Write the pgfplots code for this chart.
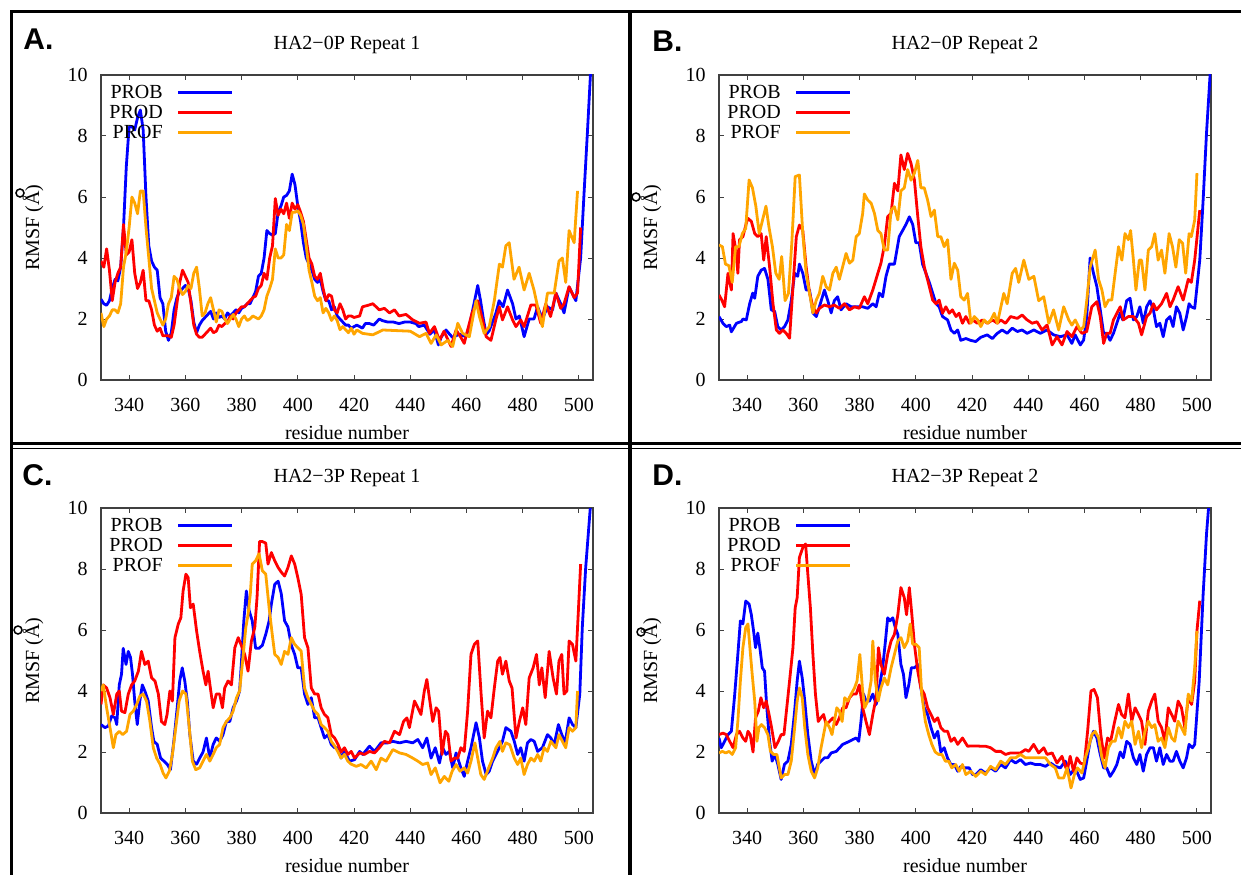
\documentclass[border=0pt]{standalone}
\usepackage{fontspec}
\setmainfont{Liberation Serif}
\newfontfamily\lettersf{Liberation Sans}
\usepackage{pgfplots}
\pgfplotsset{compat=1.18}

\definecolor{probc}{RGB}{0,0,255}
\definecolor{prodc}{RGB}{255,0,0}
\definecolor{profc}{RGB}{255,165,0}

\pgfplotsset{
  panel/.style={
    scale only axis, width=246pt, height=152.5pt, anchor=south west,
    xmin=330, xmax=505, ymin=0, ymax=10,
    xtick={340,360,...,500}, ytick={0,2,...,10},
    tick align=inside, major tick length=2.5pt,
    axis line style={black!75, line width=0.6pt},
    every tick/.style={black!75, line width=0.5pt},
    tick label style={font=\fontsize{10}{12}\selectfont},
    /pgf/number format/assume math mode=true,
    /pgf/number format/set thousands separator={},
    xticklabel style={anchor=base, yshift=-15.75pt},
    yticklabel style={anchor=east, xshift=-3.2pt},
    xlabel={residue number}, ylabel={RMSF (Å)},
    every axis x label/.style={at={(axis description cs:0.5,-0.174)}, anchor=center},
    every axis y label/.style={at={(axis description cs:-0.138,0.5)}, rotate=90, anchor=center},
    label style={font=\fontsize{10}{12}\selectfont},
    every axis title/.style={at={(axis description cs:0.5,1.098)}, anchor=center, font=\fontsize{10}{12}\selectfont},
    legend cell align=right, legend plot pos=right,
    legend style={at={(axis description cs:0,1)}, anchor=north west, xshift=4pt, yshift=-3.5pt,
      draw=none, fill=none, inner sep=0pt, row sep=0pt, font=\fontsize{10}{12}\selectfont,
      nodes={inner sep=0pt, text height=8pt, text depth=2pt},
      /tikz/every odd column/.append style={column sep=7pt}},
    legend image code/.code={\draw[#1] (0pt,0pt) -- (27pt,0pt);},
  },
  pb/.style={probc, line width=1.4pt, line join=round},
  pd/.style={prodc, line width=1.4pt, line join=round},
  pf/.style={profc, line width=1.4pt, line join=round},
}

\begin{document}
\begin{tikzpicture}
\useasboundingbox (0,0) rectangle (620.5pt,437.5pt);

% frame
\draw[line width=1.5pt] (5pt,431.5pt) -- (620.5pt,431.5pt);
\draw[line width=1.5pt] (5.5pt,432pt) -- (5.5pt,0pt);
\draw[line width=2pt] (315pt,432pt) -- (315pt,0pt);
\draw[line width=1.5pt] (5.5pt,216pt) -- (620.5pt,216pt);
\draw[line width=0.8pt] (5.5pt,213.3pt) -- (620.5pt,213.3pt);

% panel letters
\node[font=\lettersf\bfseries\fontsize{15}{17}\selectfont, anchor=base west, inner sep=0pt] at (11.5pt,412.5pt) {A.};
\node[font=\lettersf\bfseries\fontsize{15}{17}\selectfont, anchor=base west, inner sep=0pt] at (326pt,411.5pt) {B.};
\node[font=\lettersf\bfseries\fontsize{15}{17}\selectfont, anchor=base west, inner sep=0pt] at (11pt,195pt) {C.};
\node[font=\lettersf\bfseries\fontsize{15}{17}\selectfont, anchor=base west, inner sep=0pt] at (326pt,195pt) {D.};

% stray ring marks beside the y labels
\draw[line width=0.75pt] (10pt,341pt) circle (2pt);
\draw[line width=0.75pt] (318pt,339pt) circle (2pt);
\draw[line width=0.75pt] (9pt,122.5pt) circle (2pt);
\draw[line width=0.75pt] (320.5pt,121.5pt) circle (2pt);

% ---------------- A ----------------
\begin{axis}[panel, at={(50.5pt,247.5pt)}, title={HA2−0P Repeat 1}]
\addplot[pb] coordinates {(330,2.65)(331,2.5)(332,2.45)(333,2.6)(334,3.0)(335,3.3)(336,3.25)(337,3.7)(338,5.0)(339,7.0)(340,8.3)(341,8.3)(342,8.2)(343,8.6)(344,8.85)(345,8.2)(346,6.0)(347,4.4)(348,3.9)(349,3.7)(350,3.6)(351,2.7)(352,2.5)(353,1.6)(354,1.3)(355,1.55)(356,2.3)(357,2.7)(358,2.9)(359,3.0)(360,3.1)(361,3.0)(362,2.6)(363,1.9)(364,1.55)(365,1.8)(366,1.95)(367,2.05)(368,2.15)(369,2.25)(370,2.0)(371,2.2)(372,2.05)(373,2.1)(374,2.0)(375,2.2)(376,2.1)(377,2.2)(378,2.3)(379,2.2)(380,2.35)(381,2.4)(382,2.5)(383,2.5)(384,2.7)(385,2.9)(386,3.4)(387,3.5)(388,4.0)(389,4.9)(390,4.8)(391,4.75)(392,4.8)(393,5.5)(394,5.7)(395,6.0)(396,6.05)(397,6.2)(398,6.75)(399,6.4)(400,5.7)(401,5.2)(402,4.5)(403,4.0)(404,3.8)(405,3.6)(406,3.3)(407,3.2)(408,3.3)(409,2.9)(410,2.6)(411,2.6)(412,2.3)(413,2.4)(414,2.1)(415,2.0)(416,1.9)(417,1.8)(418,1.8)(419,1.7)(420,1.75)(421,1.8)(422,1.75)(423,1.7)(424,1.85)(425.5,1.85)(427,1.8)(429,2.0)(430,1.95)(432,1.9)(434,1.9)(436,1.85)(438,1.9)(440,1.9)(442,1.85)(443,1.75)(445,1.8)(447,1.5)(448.5,1.65)(450,1.15)(451,1.4)(452.7,1.64)(454,1.5)(455,1.4)(457.5,1.5)(459.8,1.42)(461,1.75)(462,2.2)(464,3.1)(465,2.6)(466,2.0)(467,1.5)(468,1.6)(470.5,2.2)(471.6,2.6)(473,2.4)(474.6,2.95)(476.4,2.5)(477.6,2.0)(478.8,2.1)(480.5,1.42)(482.3,2.0)(484,2.0)(485.3,2.4)(487,2.0)(488.8,2.4)(490.6,2.3)(491.8,2.85)(493.5,2.5)(494.7,2.2)(496.5,3.05)(498.9,2.6)(500.6,4.0)(501.8,6.1)(503,8.1)(504.2,10.2)};
\addlegendentry{PROB}
\addplot[pd] coordinates {(330,3.9)(331,3.7)(332,4.3)(333,3.6)(334,2.6)(335,3.2)(336,3.5)(337,3.7)(338,5.1)(339,4.1)(340,4.2)(341,4.6)(342,3.5)(343,3.0)(344,3.2)(345,3.6)(346,2.6)(347,2.6)(348,2.3)(349,1.8)(350,1.6)(351,1.7)(352,1.45)(353,1.45)(354,1.45)(355,1.4)(356,1.8)(357,2.5)(358,3.2)(359,3.6)(360,3.4)(361,3.2)(362,2.5)(363,1.8)(364,1.5)(365,1.4)(366,1.4)(367,1.5)(368,1.6)(369,1.7)(370,1.55)(371,1.6)(372,1.8)(373,1.75)(374,1.85)(375,1.9)(376,2.1)(377,2.0)(378,2.2)(379,2.3)(380,2.4)(381,2.4)(382,2.5)(383,2.6)(384,2.7)(385,2.75)(386,3.0)(387,3.1)(388,3.5)(389,3.3)(390,4.0)(391,4.4)(392,5.95)(393,5.4)(394,5.6)(395,5.45)(396,5.8)(397,5.3)(398,5.8)(399,5.6)(400,5.75)(401,5.5)(402,5.2)(403,4.6)(404,4.0)(405,3.8)(406,3.4)(407,3.3)(408,3.5)(409,3.0)(410,2.6)(411,2.8)(412,2.75)(413,2.3)(414,2.2)(415,2.5)(416,2.3)(417,2.0)(418,2.1)(419,2.1)(420,2.05)(422,2.1)(423,2.4)(425,2.45)(426.7,2.5)(429,2.3)(430.8,2.35)(432.6,2.2)(434.4,2.3)(436,2.1)(438.5,2.15)(440.9,1.97)(443.3,1.86)(445.6,1.9)(446.8,1.53)(448.6,1.75)(450.4,1.3)(452,1.6)(454.5,1.1)(456.3,1.64)(458,1.4)(459.2,1.2)(460.4,1.64)(462,2.2)(464,2.6)(465.7,1.97)(467,1.42)(468.7,1.3)(470.5,2.0)(471.7,2.4)(472.8,1.97)(474.6,2.4)(476.4,1.97)(477.6,1.75)(479.3,1.97)(480.5,1.75)(482.9,2.46)(484.7,2.46)(486.4,1.86)(488.2,2.5)(489.9,2.08)(491.8,2.85)(493.5,2.35)(494.7,2.5)(496.5,3.06)(498.3,2.7)(499.5,2.85)(500.6,5.0)};
\addlegendentry{PROD}
\addplot[pf] coordinates {(330,2.2)(331,1.75)(332,2.0)(333,2.1)(334,2.3)(335,2.3)(336,2.2)(337,2.5)(338,3.7)(339,4.2)(340,5.0)(341,6.0)(342,5.8)(343,5.45)(344,6.2)(345,6.2)(346,5.0)(347,4.0)(348,3.0)(349,2.6)(350,2.2)(351,2.0)(352,1.8)(353,2.0)(354,2.5)(355,2.7)(356,3.4)(357,3.3)(358,3.0)(359,2.8)(360,2.9)(361,3.1)(362,3.0)(363,3.5)(364,3.7)(365,3.0)(366,2.1)(367,2.2)(368,2.5)(369,2.7)(370,2.3)(371,1.9)(372,2.3)(373,2.25)(374,2.0)(375,1.85)(376,2.0)(377,2.15)(378,2.0)(379,1.75)(380,2.0)(381,2.1)(382,1.95)(383,2.0)(384,2.1)(385,2.05)(386,2.0)(387,2.1)(388,2.3)(389,2.75)(390,3.0)(391,3.3)(392,4.3)(393,4.0)(394,4.0)(395,4.1)(396,5.1)(397,4.9)(398,5.5)(399,5.5)(400,5.55)(401,5.4)(402,5.1)(403,4.4)(404,3.6)(405,3.2)(406,2.75)(407,2.6)(408,2.7)(409,2.2)(410,2.35)(411,2.2)(412,1.95)(413,2.1)(414,1.95)(415,1.65)(416,1.75)(417,1.65)(418,1.55)(419,1.7)(420,1.5)(421,1.64)(423,1.53)(426.7,1.48)(430.2,1.64)(435,1.62)(440,1.6)(443.3,1.42)(445.6,1.53)(447.4,1.2)(449.2,1.48)(451,1.15)(453.3,1.3)(455.1,1.1)(456.9,1.86)(458.6,1.53)(461,1.42)(463.4,2.6)(464.6,2.08)(466.3,1.53)(468.1,1.75)(469.9,2.6)(471.7,3.8)(472.8,3.7)(474,4.4)(475.2,4.5)(476.9,3.3)(478.7,3.7)(480.5,2.95)(482.3,3.5)(484,2.95)(485.3,2.4)(487,1.75)(488.8,2.85)(491.2,2.85)(492.9,3.9)(494.1,4.0)(495.3,3.2)(496.5,4.9)(498.3,4.5)(499.5,6.2)};
\addlegendentry{PROF}
\end{axis}

% ---------------- B ----------------
\begin{axis}[panel, at={(359.5pt,247.5pt)}, title={HA2−0P Repeat 2}]
\addplot[pb] coordinates {(330,2.08)(331.4,1.86)(332.6,1.75)(333.8,1.8)(334.4,1.58)(336.2,1.86)(338,1.92)(338.5,2.0)(339.7,1.97)(340.9,2.5)(342,2.85)(342.7,2.68)(343.8,3.4)(345,3.6)(346.2,3.66)(347.4,3.3)(348.6,2.3)(349.8,2.25)(350.9,1.75)(352.1,1.64)(353.3,1.75)(354.5,1.97)(355.7,2.6)(356.9,3.5)(358,3.4)(358.6,3.8)(359.8,3.5)(361,2.95)(362.2,2.95)(363.4,2.2)(364.6,2.08)(365.7,2.4)(367.5,2.95)(368.7,2.6)(369.9,2.2)(371,2.6)(372.2,2.73)(373.4,2.3)(375.2,2.5)(377,2.4)(378.8,2.4)(381.1,2.4)(382.9,2.35)(384.7,2.5)(385.9,2.4)(387,2.85)(388.2,2.73)(389.4,3.4)(390.6,3.8)(392.4,3.8)(394.1,4.7)(395.3,4.9)(396.5,5.1)(397.7,5.35)(398.9,5.1)(400,4.5)(401.2,4.5)(402.4,3.8)(403.6,3.5)(404.8,3.2)(406,2.85)(407.2,2.5)(408.3,2.4)(409.5,2.08)(411.3,1.97)(412.5,1.64)(413.7,1.53)(414.9,1.64)(416,1.3)(417.8,1.36)(419.5,1.3)(421.3,1.26)(423.1,1.4)(425.4,1.48)(427.2,1.36)(429,1.53)(430.7,1.64)(432.5,1.53)(434.3,1.7)(436.1,1.59)(437.8,1.64)(439.6,1.53)(442,1.64)(444.3,1.53)(446.7,1.64)(449,1.48)(451.4,1.42)(453.8,1.48)(455.5,1.2)(456.7,1.48)(458.5,1.15)(459.7,1.31)(460.8,2.08)(462,4.0)(463.2,3.5)(464.4,3.06)(465.6,2.3)(466.8,1.53)(467.9,1.53)(469.1,1.3)(470.3,1.53)(471.5,1.86)(472.7,2.2)(473.6,1.97)(475,2.6)(476.2,2.68)(477.4,1.97)(478.6,2.08)(479.7,2.4)(480.9,1.86)(482.1,2.4)(483.3,2.6)(484.5,2.3)(485.6,1.75)(486.8,1.86)(488,1.42)(489.2,1.97)(490.4,2.08)(491.5,1.75)(492.7,2.4)(493.9,2.19)(495.1,1.64)(496.3,2.08)(497.2,2.5)(498,2.4)(499.2,2.35)(501,3.93)(502.2,5.9)(503.4,8.1)(504.8,10.2)};
\addlegendentry{PROB}
\addplot[pd] coordinates {(330,2.79)(331,2.62)(332,2.4)(333.2,3.5)(334.4,2.95)(335,4.8)(336.2,4.15)(336.7,3.5)(337.3,4.6)(338.5,4.7)(339.7,5.14)(340.3,5.3)(341.5,5.2)(342.7,4.8)(343.8,4.7)(345,4.8)(345.9,3.93)(346.8,4.7)(348,3.7)(349.2,2.5)(350.4,1.64)(351.5,1.53)(352.7,1.64)(353.9,1.53)(355.1,1.37)(356.3,3.06)(357.5,4.7)(358.6,5.08)(359.8,4.9)(361,3.7)(362.2,2.85)(363.4,2.4)(364.6,2.2)(365.7,2.35)(367.5,2.46)(369.3,2.4)(371,2.46)(372.8,2.35)(374.6,2.5)(376.4,2.3)(378.2,2.4)(379.9,2.35)(381.7,2.73)(382.9,2.5)(384.7,2.95)(386.5,3.5)(387.6,3.83)(388.8,4.4)(390,5.36)(391.2,5.46)(392.4,6.45)(393.6,6.2)(394.7,7.38)(395.9,6.9)(397.1,7.43)(398.3,7.1)(399.5,6.56)(400.7,5.36)(401.8,4.37)(403,3.72)(404.8,3.06)(406,2.62)(407.2,2.5)(408.3,2.62)(409.5,2.19)(410.7,2.4)(411.9,2.19)(413,2.3)(414.3,2.08)(415.4,2.19)(416.6,1.86)(417.8,2.08)(419,1.86)(420.2,1.97)(421.9,1.86)(423.7,1.97)(425.5,1.86)(427.3,1.97)(429,1.86)(430.2,1.97)(431.9,1.86)(433.7,2.08)(436.1,2.02)(437.8,2.13)(439.6,1.97)(441.4,1.86)(443.1,1.91)(444.9,1.64)(446.7,1.8)(448.5,1.15)(450.2,1.42)(452,1.15)(453.8,1.59)(455.5,1.42)(457.3,1.75)(459.1,1.53)(460.8,1.59)(462.6,2.4)(464.4,2.57)(465.6,2.08)(466.8,1.2)(467.9,1.53)(469.1,1.53)(470.3,1.97)(472.7,2.4)(473.8,1.97)(475.6,2.08)(477.4,2.08)(479.2,1.86)(480.3,1.48)(482.1,2.08)(483.3,2.19)(484.5,2.5)(485.6,2.3)(487.4,2.5)(489.2,2.84)(490.4,2.4)(491.5,2.62)(493.3,3.06)(495.1,2.62)(496.9,3.3)(498,3.2)(499.2,3.93)(501,5.57)};
\addlegendentry{PROD}
\addplot[pf] coordinates {(330,4.43)(331.2,4.37)(332.3,3.8)(333.5,3.75)(334.7,3.2)(335.9,4.37)(337.1,4.37)(338.3,4.8)(339.5,4.97)(340.7,6.56)(341.9,6.3)(343.1,5.7)(344.3,4.8)(345.5,5.25)(346.7,5.7)(347.8,5.0)(349,4.37)(350.2,3.5)(351.4,3.3)(352.3,4.05)(353.5,2.6)(354.7,2.84)(355.9,4.5)(357.1,6.67)(358.6,6.72)(359.8,4.8)(361,3.5)(362.2,2.85)(363.4,2.2)(364.6,2.62)(365.7,2.84)(366.9,3.4)(368.1,3.06)(369.3,2.95)(370.5,3.5)(371.7,3.7)(372.8,3.3)(374,3.72)(375.2,4.15)(376.4,3.83)(377.6,3.93)(378.8,4.7)(379.9,4.8)(381.1,5.46)(381.7,6.1)(382.9,5.9)(384.1,5.8)(385.3,5.46)(386.5,4.9)(387.6,4.8)(388.8,4.26)(390,4.26)(391.2,5.57)(392.4,5.68)(393.6,5.25)(394.7,6.2)(395.9,6.3)(397.1,6.9)(398.3,6.55)(399.5,6.78)(400.7,7.2)(401.8,6.3)(403,6.3)(404.2,5.9)(405.4,5.36)(406.6,5.57)(407.8,4.7)(408.9,4.7)(410.1,4.37)(411.3,4.6)(412.5,3.3)(413.7,3.83)(414.9,3.6)(416,2.73)(417.2,2.62)(418.4,2.84)(419.6,1.86)(420.8,2.08)(422,1.97)(423.1,1.75)(424.3,1.97)(425.5,1.86)(426.7,1.97)(427.9,2.19)(429,1.86)(431.3,2.84)(432.5,2.5)(434.3,3.5)(435.5,3.66)(436.6,3.2)(438.4,3.93)(440.2,3.3)(442,3.4)(443.7,2.6)(445.5,2.73)(447.3,1.86)(449,2.3)(450.8,1.64)(452.6,2.4)(454.4,1.97)(455.5,1.8)(456.7,1.97)(458.5,1.64)(459.7,1.75)(460.8,2.6)(462,3.7)(463.8,4.26)(465,3.3)(466.2,2.95)(467.3,2.4)(468.5,2.62)(469.7,2.62)(470.9,3.5)(472.1,4.37)(473.3,3.93)(474.4,4.8)(475.6,4.6)(476.4,4.9)(477.4,3.93)(478.3,2.95)(479.5,3.93)(480.3,3.93)(481.5,2.95)(482.7,4.26)(483.9,4.37)(485,4.8)(486.2,3.93)(487.4,4.26)(488.6,3.5)(490.1,4.8)(491.3,4.37)(492.5,3.7)(493.7,4.6)(494.9,4.48)(496,3.5)(497.2,4.8)(498,4.7)(499.2,5.25)(500,6.78)};
\addlegendentry{PROF}
\end{axis}

% ---------------- C ----------------
\begin{axis}[panel, at={(50.5pt,31pt)}, title={HA2−3P Repeat 1}]
\addplot[pb] coordinates {(330,2.9)(331.4,2.8)(332.6,2.85)(333.8,3.18)(335,3.12)(335.6,2.9)(336.5,4.2)(337.3,4.55)(337.9,5.4)(338.9,4.87)(339.7,5.3)(340.5,5.1)(341.2,4.55)(342,3.67)(342.9,2.9)(343.8,3.67)(344.7,4.2)(345.6,4.0)(346.8,3.67)(348,2.8)(348.8,2.35)(350,2.25)(351.2,1.8)(352.4,1.7)(353.6,1.59)(354.7,1.42)(355.9,2.35)(357.1,3.45)(358,4.33)(358.9,4.76)(359.8,4.33)(360.7,3.67)(361.6,2.57)(362.8,1.7)(364,1.6)(365.1,1.8)(366.3,2.0)(367.5,2.46)(368.7,1.8)(369.9,2.25)(371,2.46)(372.2,2.35)(373.4,2.57)(374.6,3.0)(375.8,3.0)(377,3.45)(378.2,3.67)(379.3,4.0)(379.9,4.87)(380.8,6.3)(381.7,7.28)(382.7,6.63)(383.8,6.3)(385,5.4)(386.2,5.4)(387.4,5.5)(388.6,5.86)(389.8,6.3)(390.6,6.85)(391.8,7.5)(393,7.6)(394.1,7.2)(395.3,6.3)(396.5,6.1)(397.7,5.5)(398.9,5.2)(400,4.76)(401.2,4.76)(402.4,3.9)(403.6,3.56)(404.8,3.78)(406,3.12)(407.2,3.12)(408.3,2.8)(409.5,2.46)(410.7,2.57)(411.9,2.25)(413.1,2.14)(414.3,2.14)(415.4,1.8)(416.6,2.02)(418.4,1.7)(420.2,1.75)(422,2.02)(423.1,1.92)(425.5,2.19)(427.3,2.02)(429.6,2.3)(432,2.3)(433.8,2.35)(436.2,2.3)(438.5,2.35)(440.9,2.3)(442.7,2.41)(444.4,2.14)(445.9,2.46)(447.4,1.8)(448.9,2.14)(450.4,1.64)(451.5,2.14)(452.7,1.92)(453.9,2.02)(455.1,1.48)(456.3,1.97)(458,1.48)(459.2,1.2)(460.4,1.7)(461.6,2.14)(463.4,2.96)(464.6,2.46)(465.7,1.7)(467,1.26)(468.1,1.37)(469.3,1.7)(470.5,1.92)(471.7,2.14)(472.8,2.35)(474,2.8)(475.8,2.68)(477,2.35)(478.2,1.92)(479.3,2.14)(480.5,1.7)(481.7,2.3)(482.9,2.41)(484.1,2.35)(485.3,2.02)(487,2.14)(488.8,2.57)(490,2.46)(491.2,2.24)(492.7,2.9)(493.9,2.57)(495.1,2.3)(496.5,3.12)(497.7,2.9)(498.9,2.8)(500.3,3.9)(501.2,6.1)(502.4,8.05)(504.2,10.2)};
\addlegendentry{PROB}
\addplot[pd] coordinates {(330,3.56)(330.8,4.2)(332,4.1)(333.2,3.78)(334.4,3.23)(335.6,3.9)(336.5,4.0)(337.3,3.34)(338.5,3.29)(339.7,3.9)(340.9,4.2)(342,4.33)(343.3,4.65)(344.4,5.3)(345.6,4.87)(346.8,4.98)(348,4.43)(349.2,4.33)(350.4,3.9)(351.5,3.0)(352.7,2.9)(353.5,3.23)(354.5,4.0)(355.4,3.67)(356.3,5.75)(357.5,6.2)(358.4,6.4)(359.2,7.28)(360.2,7.83)(361,7.72)(361.8,6.73)(362.8,6.85)(364,5.97)(365.1,5.3)(366.3,4.65)(367.3,4.2)(368.1,4.65)(368.9,4.1)(369.9,3.45)(371,3.9)(372.2,3.9)(373.2,3.45)(374,4.1)(375.2,4.33)(376.4,4.2)(377.6,5.42)(378.8,5.75)(379.9,5.5)(381.1,5.2)(382.3,4.65)(383.5,5.64)(384.7,6.08)(385.5,7.06)(386.4,8.9)(387.4,8.9)(388.6,8.85)(389.4,8.16)(390.6,8.54)(391.8,8.27)(393,8.05)(394.1,7.9)(395.3,7.77)(396.5,8.05)(397.7,8.43)(398.9,8.16)(400,7.72)(401.2,7.17)(402.4,5.75)(403.6,5.42)(404.8,4.1)(406,3.9)(407.2,3.9)(408.3,3.45)(409.5,3.23)(410.7,3.12)(411.9,2.57)(413.1,2.46)(414.3,2.25)(415.4,2.0)(416.6,2.14)(417.8,1.92)(419,2.02)(420.2,1.8)(422,1.97)(423.7,1.92)(425.5,2.02)(427.3,1.97)(429,2.14)(430.8,2.35)(432.6,2.3)(434.4,2.68)(436.2,2.57)(437.6,3.0)(438.8,3.12)(439.7,2.8)(441.5,3.67)(442.7,3.45)(443.8,3.23)(445,4.0)(445.9,4.38)(446.8,3.78)(448,3.0)(449.2,3.45)(450.1,3.34)(451.3,1.92)(452.5,2.68)(453.4,2.57)(454.5,1.7)(455.7,1.8)(456.9,1.8)(458,2.14)(459.2,2.02)(460.4,3.34)(461.6,5.2)(462.8,5.53)(464,5.64)(465.2,3.9)(466.3,2.46)(467.5,3.34)(468.7,3.12)(469.9,4.1)(471.1,4.98)(471.9,5.1)(472.8,4.55)(474,4.98)(475.2,4.33)(476.2,4.1)(477.6,2.46)(478.8,3.0)(480,3.45)(481.1,2.9)(482.3,4.43)(483.7,4.76)(484.9,5.2)(485.9,4.2)(486.8,4.76)(488,3.78)(489.4,5.3)(490.8,4.43)(492,3.9)(492.9,4.98)(493.9,5.2)(494.7,3.9)(495.7,4.0)(496.5,5.64)(497.7,5.53)(498.9,4.98)(499.8,6.63)(500.6,8.16)};
\addlegendentry{PROD}
\addplot[pf] coordinates {(330,4.0)(330.8,4.2)(332,3.45)(333.2,2.8)(334.4,2.14)(335.3,2.57)(336.5,2.68)(337.7,2.57)(339.1,2.68)(340.3,3.23)(341.5,3.34)(342.7,3.56)(343.8,3.83)(345,3.9)(346.2,3.67)(347.4,3.0)(348.6,2.14)(349.8,1.8)(351,1.6)(352.1,1.31)(353.1,1.15)(354.3,1.37)(355.4,1.92)(356.6,2.8)(357.8,3.67)(359,4.0)(360.2,3.9)(361.4,2.8)(362.5,1.7)(363.7,1.42)(365.1,1.48)(366.3,1.7)(367.5,1.92)(368.7,1.7)(369.9,1.92)(371,2.14)(372.2,2.25)(373.4,2.8)(374.6,3.0)(375.8,3.12)(377,3.34)(378.2,3.78)(379.3,4.0)(380.5,5.1)(381.5,6.08)(382.3,6.5)(383.1,7.17)(383.8,8.16)(385,8.27)(386.2,8.5)(387.4,7.94)(388.6,7.83)(389.8,6.73)(390.9,5.86)(391.8,5.2)(393,5.1)(394.1,4.87)(395.3,5.3)(396.5,5.2)(397.7,5.75)(398.9,5.53)(400,5.42)(401.2,5.31)(402.4,4.1)(403.6,3.78)(404.8,3.56)(406,3.34)(407.2,3.23)(408.3,2.9)(409.5,2.8)(410.7,2.68)(411.9,2.35)(413.1,2.2)(414.3,2.0)(415.4,1.8)(416.6,1.92)(417.8,1.7)(419,1.6)(420.8,1.53)(422.5,1.59)(424.3,1.48)(426.1,1.7)(427.9,1.42)(429.6,1.8)(431.4,1.7)(433.8,2.08)(436.2,1.97)(438.5,1.92)(440.9,1.8)(442.7,1.7)(444.4,1.59)(446.2,1.64)(447.4,1.26)(448.9,1.48)(450.6,0.99)(452.1,1.2)(453.7,1.04)(454.9,1.37)(456.3,1.59)(457.7,1.37)(459.2,1.48)(460.4,1.31)(461.6,1.7)(463,2.3)(464.2,1.7)(465.1,1.26)(466.3,1.1)(467.9,1.48)(469.3,1.8)(470.5,2.14)(471.9,2.35)(472.8,2.02)(474,2.3)(475.4,2.24)(477,1.8)(478.2,1.59)(479.3,1.8)(480.5,1.26)(481.7,1.59)(482.9,1.8)(484.1,1.7)(485.3,1.92)(486.4,1.7)(487.6,2.14)(488.8,2.02)(490,2.35)(491.8,2.14)(492.9,2.57)(494.1,2.35)(495.3,2.14)(496.5,2.8)(497.7,2.68)(498.9,2.8)(499.5,4.0)};
\addlegendentry{PROF}
\end{axis}

% ---------------- D ----------------
\begin{axis}[panel, at={(359.5pt,31pt)}, title={HA2−3P Repeat 2}]
\addplot[pb] coordinates {(330,2.46)(330.8,2.14)(332,2.35)(333.2,2.57)(334.4,2.68)(335.6,3.9)(336.7,5.2)(337.6,6.3)(338.5,6.2)(339.5,6.95)(340.7,6.85)(341.5,6.5)(342.3,5.97)(343,5.42)(343.8,5.9)(344.7,5.3)(345.4,4.76)(346.2,4.65)(347,3.45)(348,2.35)(348.9,1.7)(349.9,1.92)(350.9,1.6)(352.1,1.1)(353.3,1.6)(354.5,1.7)(355.7,2.25)(356.9,3.34)(357.8,4.33)(358.6,4.98)(359.6,4.43)(360.5,3.67)(361.6,2.57)(362.8,1.7)(364,1.26)(365.1,1.6)(366.3,1.7)(367.5,1.81)(368.7,1.81)(369.9,1.97)(371.7,2.02)(372.8,2.13)(374,2.25)(375.2,2.3)(376.4,2.35)(377.6,2.41)(378.8,2.46)(379.7,2.35)(380.5,3.0)(381.4,3.9)(382.3,3.67)(383.5,3.67)(384.7,3.9)(385.9,3.56)(387,4.1)(388.2,4.76)(389.2,5.64)(390,6.4)(390.8,6.3)(391.8,6.4)(392.7,6.08)(393.6,5.86)(394.7,4.87)(395.6,4.55)(396.5,3.78)(397.5,4.2)(398.4,4.76)(399.5,4.76)(400.7,4.87)(401.8,4.1)(403,3.45)(404.2,3.23)(405.4,2.8)(406.6,2.46)(407.8,2.68)(408.9,2.0)(410.1,2.14)(411.3,1.8)(412.5,1.59)(413.7,1.59)(414.9,1.37)(416,1.53)(417.2,1.48)(419,1.48)(420.2,1.26)(421.3,1.26)(423.1,1.42)(424.8,1.31)(426.6,1.48)(428.4,1.37)(430.2,1.59)(431.9,1.48)(433.7,1.75)(435.5,1.64)(437.2,1.75)(439,1.59)(440.8,1.64)(442.5,1.59)(444.3,1.59)(446.1,1.53)(447.9,1.64)(449.6,1.53)(451.4,1.48)(453.2,1.7)(454.9,1.26)(456.7,1.48)(458.5,1.1)(459.7,1.15)(460.8,1.7)(462,2.35)(463.2,2.68)(464.4,2.46)(465.6,1.92)(466.8,1.48)(467.9,1.48)(469.1,1.2)(470.3,1.37)(471.5,1.59)(472.7,2.0)(473.8,1.81)(475,2.35)(476.2,2.25)(477.4,1.81)(478.6,1.59)(479.7,1.92)(480.9,1.37)(482.1,1.92)(483.3,2.14)(484.5,2.14)(485.6,1.7)(486.8,2.14)(488,1.59)(489.2,1.92)(490.4,1.7)(491.5,1.7)(492.7,2.02)(493.9,1.7)(495.1,1.48)(496.3,1.81)(497.2,2.25)(498.4,2.14)(499.2,2.25)(500.8,4.33)(502.2,7.17)(503.4,9.15)(504.3,10.2)};
\addlegendentry{PROB}
\addplot[pd] coordinates {(330,2.57)(331.4,2.62)(332.6,2.57)(333.8,2.35)(335,2.14)(336.2,2.57)(337.3,2.68)(338.5,2.46)(339.5,2.35)(340.3,2.68)(341.1,2.57)(342.1,2.0)(343,3.12)(344,3.34)(344.9,3.78)(345.9,3.45)(346.8,3.67)(347.8,3.23)(348.7,2.8)(349.9,2.14)(351.1,2.35)(352.1,2.57)(353.1,2.57)(354.1,3.45)(355.1,4.33)(356.3,5.42)(357.1,6.73)(357.8,7.06)(358.6,8.38)(359.8,8.7)(360.8,8.82)(361.6,7.83)(362.5,6.73)(363.4,5.2)(364.3,3.9)(365.3,3.0)(366.2,3.12)(367.2,3.23)(368.1,2.9)(369.3,3.0)(370.5,3.12)(371.7,2.9)(372.8,3.12)(374,3.45)(375.2,3.45)(376.4,3.78)(377.6,3.9)(378.8,3.9)(379.9,4.2)(381.1,3.45)(382.3,3.0)(383.5,2.57)(384.7,3.23)(385.9,3.78)(386.7,5.42)(387.6,4.87)(388.8,4.55)(390,5.2)(391.2,5.64)(392.4,5.86)(393.6,6.5)(394.7,7.39)(395.9,7.06)(396.7,6.5)(397.7,7.39)(398.6,6.5)(399.5,5.53)(400.7,4.65)(401.8,4.1)(403,3.9)(404.2,3.45)(405.4,3.23)(406.6,3.0)(407.8,3.12)(408.9,2.8)(410.1,2.68)(411.3,2.68)(412.5,2.35)(413.7,2.46)(414.9,2.25)(416.6,2.46)(418.4,2.19)(420.2,2.2)(421.3,2.2)(423.1,2.19)(424.8,2.19)(426.6,2.14)(428.4,2.02)(430.2,2.02)(431.9,1.92)(433.7,1.97)(435.5,1.97)(437.2,1.97)(439,2.08)(440.2,2.02)(441.9,2.25)(443.7,1.97)(445.5,2.14)(446.7,1.92)(448.5,1.97)(450.2,1.64)(452,1.86)(453.8,1.37)(454.9,1.86)(456.1,1.37)(457.3,1.81)(458.5,1.64)(459.9,1.59)(461.1,2.68)(462.3,4.0)(463.4,4.05)(464.6,3.78)(465.8,2.57)(467,1.8)(468.2,2.46)(469.3,2.35)(470.5,2.9)(472.1,3.56)(473.2,3.23)(474.4,3.12)(475.6,3.9)(476.8,3.01)(478,3.45)(479.2,3.23)(480.3,3.01)(481.5,2.25)(482.7,3.34)(483.9,3.67)(485,3.9)(486.2,3.01)(487.4,2.8)(488.6,2.35)(489.8,3.45)(491,3.23)(492.1,3.01)(493.3,3.67)(494.5,3.45)(495.7,2.8)(496.9,3.78)(498.1,3.56)(499.2,4.33)(500,5.97)(501,6.96)};
\addlegendentry{PROD}
\addplot[pf] coordinates {(330,1.97)(331.2,2.02)(332.4,1.97)(333.6,2.02)(334.7,1.92)(335.9,2.14)(336.7,3.0)(337.6,4.33)(338.5,5.42)(339.5,6.08)(340.3,6.2)(341.1,5.3)(341.8,4.55)(342.7,3.67)(343.5,2.35)(344.2,2.8)(345.1,2.9)(346.2,2.8)(347.4,2.57)(348.3,2.02)(349.4,1.92)(350.6,1.92)(352.1,1.15)(353.3,1.26)(354.5,1.26)(355.7,1.7)(356.9,2.8)(357.8,3.67)(358.6,4.1)(359.6,3.78)(360.5,2.8)(361.6,1.92)(362.8,1.37)(364,1.15)(365.1,1.48)(366.3,2.14)(367.2,2.57)(368.1,3.0)(369.3,2.8)(370.2,2.57)(371,3.0)(371.9,3.45)(372.8,3.34)(373.8,3.0)(374.7,3.78)(375.8,3.67)(377,3.9)(378.2,4.1)(379.1,4.33)(380.1,5.2)(381,4.1)(381.8,3.45)(382.9,3.67)(384.1,4.33)(384.7,5.64)(385.6,4.33)(386.6,3.67)(387.6,4.1)(388.8,4.43)(390,4.2)(391.2,4.76)(392.4,5.2)(393.6,5.64)(394.7,5.75)(395.9,5.42)(397.1,5.64)(398,6.2)(398.9,5.53)(400.1,5.53)(401.2,5.42)(402.1,3.9)(403.4,3.0)(404.6,2.57)(405.7,2.25)(406.9,2.0)(408.1,1.92)(409.3,1.92)(410.5,1.7)(411.7,1.7)(412.8,1.48)(414.2,1.59)(415.4,1.37)(416.6,1.59)(417.8,1.26)(419.5,1.37)(421.3,1.2)(423.1,1.37)(424.8,1.26)(426.6,1.53)(428.4,1.42)(430.2,1.7)(431.9,1.59)(433.7,1.81)(435.5,1.81)(437.2,1.92)(439,1.81)(440.8,1.81)(442.5,1.81)(444.3,1.81)(446.1,1.81)(447.9,1.59)(449.6,1.48)(450.8,1.15)(452.6,1.15)(453.8,1.48)(455.2,0.82)(456.4,1.26)(457.5,1.48)(459.1,1.31)(460.3,1.81)(461.4,2.13)(462.6,2.57)(463.8,2.68)(465,2.46)(466.2,1.81)(467.3,1.48)(468.5,2.13)(469.7,2.35)(470.9,2.35)(472.1,2.8)(473.2,2.46)(474.4,3.01)(475.6,2.8)(476.8,3.01)(478,2.25)(479.2,2.68)(480.3,2.14)(481.5,2.68)(482.7,3.01)(483.9,2.8)(485,2.9)(486.2,2.35)(487.4,2.46)(488.6,2.14)(489.8,2.8)(491,2.46)(492.1,2.35)(493.3,3.01)(494.5,2.8)(495.7,2.57)(496.9,3.9)(498.1,3.67)(499.2,4.76)(500,5.97)};
\addlegendentry{PROF}
\end{axis}
\end{tikzpicture}
\end{document}
